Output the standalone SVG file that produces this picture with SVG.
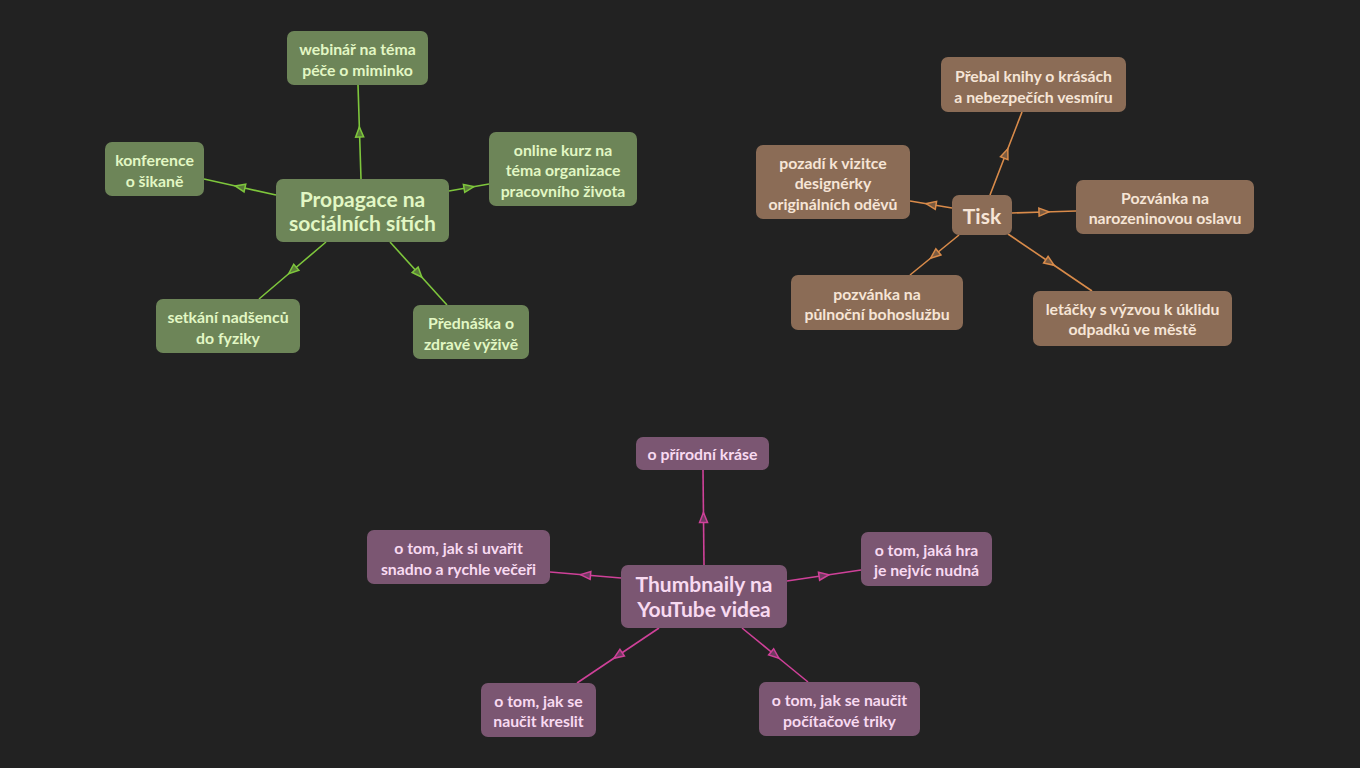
<svg xmlns="http://www.w3.org/2000/svg" width="1360" height="768" viewBox="0 0 1360 768">
<style>
text{font-family:Lato,"Noto Sans","Liberation Sans",sans-serif;font-weight:bold;text-anchor:middle;dominant-baseline:central}
.g rect{fill:#6d8558}
.g text{fill:#e2f7c4;font-size:15.8px}
.b rect{fill:#8b6c56}
.b text{fill:#f6e5d6;font-size:15.8px}
.p rect{fill:#7b5672}
.p text{fill:#f8daf1;font-size:15.8px}
.big{font-size:21px !important}
.cg{stroke:#7ec63c;stroke-width:1.6;fill:none;marker-mid:url(#ag)}
.cb{stroke:#d98b4a;stroke-width:1.6;fill:none;marker-mid:url(#ab)}
.cp{stroke:#cf4199;stroke-width:1.6;fill:none;marker-mid:url(#ap)}
</style>
<defs>
<marker id="ag" markerUnits="userSpaceOnUse" markerWidth="14" markerHeight="12" viewBox="0 0 14 12" refX="7" refY="6" orient="auto"><path d="M2,2 L12,6 L2,10 Z" fill="#5a7a3a" stroke="#7ec63c" stroke-width="1.5"/></marker>
<marker id="ab" markerUnits="userSpaceOnUse" markerWidth="14" markerHeight="12" viewBox="0 0 14 12" refX="7" refY="6" orient="auto"><path d="M2,2 L12,6 L2,10 Z" fill="#7a5a40" stroke="#d98b4a" stroke-width="1.5"/></marker>
<marker id="ap" markerUnits="userSpaceOnUse" markerWidth="14" markerHeight="12" viewBox="0 0 14 12" refX="7" refY="6" orient="auto"><path d="M2,2 L12,6 L2,10 Z" fill="#6e3a60" stroke="#cf4199" stroke-width="1.5"/></marker>
</defs>
<rect width="1360" height="768" fill="#222222"/>
<g id="connectors">
<path class="cg" d="M361,179 L359.5,132 L358,85"/>
<path class="cg" d="M276,195 L240,187 L204,179"/>
<path class="cg" d="M449,191 L469,187.5 L489,184"/>
<path class="cg" d="M326,242 L292.5,270.5 L259,299"/>
<path class="cg" d="M390,242 L418.5,273.5 L447,305"/>
<path class="cb" d="M990,195 L1006,153.5 L1022,112"/>
<path class="cb" d="M952,208 L931,204.5 L910,201"/>
<path class="cb" d="M1012,213 L1044,212 L1076,211"/>
<path class="cb" d="M959,235 L934.5,255 L910,275"/>
<path class="cb" d="M1008,234 L1050,262.5 L1092,291"/>
<path class="cp" d="M704,565 L703.5,517.5 L703,470"/>
<path class="cp" d="M621,578 L585.5,575 L550,572"/>
<path class="cp" d="M787,581 L824,575.5 L861,570"/>
<path class="cp" d="M659,628 L618,655.5 L577,683"/>
<path class="cp" d="M742,628 L775,655 L808,682"/>
</g>
<g id="n-propagace" class="g"><rect x="276" y="179" width="173" height="63" rx="7"/><text class="big" x="362.5" y="198">Propagace na</text><text class="big" x="362.5" y="222">sociálních sítích</text></g>
<g id="n-webinar" class="g"><rect x="287" y="31" width="141" height="54" rx="7"/><text x="357.5" y="48">webinář na téma</text><text x="357.5" y="69">péče o miminko</text></g>
<g id="n-konference" class="g"><rect x="105" y="142" width="99" height="54" rx="7"/><text x="154.5" y="159">konference</text><text x="154.5" y="180">o šikaně</text></g>
<g id="n-online" class="g"><rect x="489" y="132" width="148" height="74" rx="7"/><text x="563" y="149">online kurz na</text><text x="563" y="169.5">téma organizace</text><text x="563" y="190">pracovního života</text></g>
<g id="n-setkani" class="g"><rect x="156" y="299" width="144" height="54" rx="7"/><text x="228" y="316">setkání nadšenců</text><text x="228" y="337">do fyziky</text></g>
<g id="n-prednaska" class="g"><rect x="413" y="305" width="116" height="54" rx="7"/><text x="471" y="322">Přednáška o</text><text x="471" y="343">zdravé výživě</text></g>
<g id="n-tisk" class="b"><rect x="952" y="195" width="60" height="40" rx="7"/><text class="big" x="982" y="215">Tisk</text></g>
<g id="n-prebal" class="b"><rect x="941" y="57" width="185" height="55" rx="7"/><text x="1033.5" y="75">Přebal knihy o krásách</text><text x="1033.5" y="96">a nebezpečích vesmíru</text></g>
<g id="n-pozadi" class="b"><rect x="756" y="145" width="154" height="74" rx="7"/><text x="833" y="162">pozadí k vizitce</text><text x="833" y="182.5">designérky</text><text x="833" y="203">originálních oděvů</text></g>
<g id="n-pozvanka1" class="b"><rect x="1076" y="180" width="178" height="54" rx="7"/><text x="1165" y="197">Pozvánka na</text><text x="1165" y="217">narozeninovou oslavu</text></g>
<g id="n-pozvanka2" class="b"><rect x="791" y="275" width="172" height="55" rx="7"/><text x="877" y="293">pozvánka na</text><text x="877" y="313">půlnoční bohoslužbu</text></g>
<g id="n-letacky" class="b"><rect x="1033" y="291" width="199" height="55" rx="7"/><text x="1132.5" y="308">letáčky s výzvou k úklidu</text><text x="1132.5" y="328">odpadků ve městě</text></g>
<g id="n-thumb" class="p"><rect x="621" y="565" width="166" height="63" rx="7"/><text class="big" x="704" y="583">Thumbnaily na</text><text class="big" x="704" y="608">YouTube videa</text></g>
<g id="n-priroda" class="p"><rect x="636" y="437" width="133" height="33" rx="7"/><text x="702.5" y="453.5">o přírodní kráse</text></g>
<g id="n-uvarit" class="p"><rect x="367" y="530" width="183" height="54" rx="7"/><text x="458.5" y="547">o tom, jak si uvařit</text><text x="458.5" y="568">snadno a rychle večeři</text></g>
<g id="n-hra" class="p"><rect x="861" y="532" width="131" height="54" rx="7"/><text x="926.5" y="549">o tom, jaká hra</text><text x="926.5" y="569">je nejvíc nudná</text></g>
<g id="n-kreslit" class="p"><rect x="481" y="683" width="115" height="54" rx="7"/><text x="538.5" y="700">o tom, jak se</text><text x="538.5" y="720">naučit kreslit</text></g>
<g id="n-triky" class="p"><rect x="759" y="682" width="161" height="54" rx="7"/><text x="839.5" y="699">o tom, jak se naučit</text><text x="839.5" y="720">počítačové triky</text></g>
</svg>
